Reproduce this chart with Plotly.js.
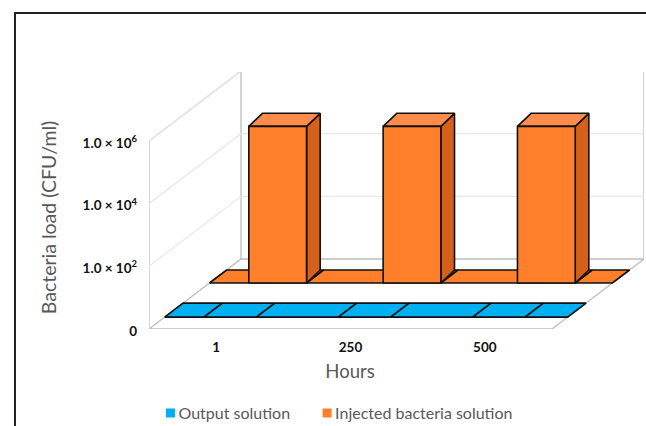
<!DOCTYPE html>
<html>
<head>
<meta charset="utf-8">
<script src="https://cdn.plot.ly/plotly-3.0.1.min.js"></script>
<style>
html,body{margin:0;padding:0;background:#fff;overflow:hidden}
#chart{position:absolute;left:0;top:0;width:646px;height:426px}
#frame{position:absolute;left:14px;top:12px;width:640px;height:420px;border-left:2px solid #222;border-top:2px solid #222;pointer-events:none}
#chart .legendsymbols{transform:translateX(-9px)}
#chart .legendtext{transform:translateX(-21px)}
</style>
</head>
<body>
<div id="chart"></div>
<div id="frame"></div>
<script>
// Data
const hours = ['1', '250', '500'];
const outputSolution = [0, 0, 0];
const injectedSolution = [1e5, 1e5, 1e5];
const valueTicks = [0, 1e2, 1e4, 1e6];
const valueTickLabels = ['0', '1.0 × 10<sup>2</sup>', '1.0 × 10<sup>4</sup>', '1.0 × 10<sup>6</sup>'];

// Scale: 0 at the floor, one level for each two decades
const level = v => v > 0 ? Math.log10(v) / 2 : 0;
const topLevel = level(valueTicks[valueTicks.length - 1]);
const nCat = hours.length;

// Oblique projection: depth 0 = front of the floor, depth 1 = back wall
const shiftX = 92 / 134.33, shiftY = 70 / 62.67;
const P = (x, d, l) => [x + d * shiftX, l + d * shiftY];

const traces = [];
function poly(pts, fill, color, width) {
  const q = pts.map(p => P(p[0], p[1], p[2]));
  const t = {
    x: q.map(a => a[0]), y: q.map(a => a[1]), mode: 'lines', hoverinfo: 'skip', showlegend: false,
    line: {color: color, width: width}
  };
  if (fill) { t.fill = 'toself'; t.fillcolor = fill; }
  traces.push(t);
}

// Walls and floor
const faint = '#e8e8e8', edge = '#bdbdbd';
poly([[0,0,0],[nCat,0,0],[nCat,1,0],[0,1,0],[0,0,0]], null, edge, 1.3);
poly([[0,1,0],[0,1,topLevel]], null, edge, 1.3);
poly([[0,0,0],[0,0,topLevel],[0,1,topLevel]], null, edge, 1.3);
poly([[0,1,topLevel],[nCat,1,topLevel]], null, faint, 1.5);
poly([[nCat,1,topLevel],[nCat,1,0]], null, edge, 1.3);
valueTicks.slice(1).forEach(v => {
  poly([[0,0,level(v)],[0,1,level(v)],[nCat,1,level(v)]], null, faint, 1.3);
});

const depthRows = {output: [0.17, 0.37], injected: [0.657, 0.843]};
const barWidths = {output: 0.39, injected: 0.43};
const rowOffsets = {output: -0.012, injected: 0.008};
const barSkew = 0.026;
const colors = {
  output: {front: '#00B0F0'},
  injected: {front: '#FF7F2A', top: '#FF8C4B', side: '#D5601A'}
};

function row(values, d, w, off, c) {
  const [d0, d1] = d;
  const edges = [0];
  values.forEach((_, i) => edges.push(i + 0.5 + off - w / 2, i + 0.5 + off + w / 2));
  edges.push(nCat);
  for (let i = 0; i < edges.length - 1; i++) {
    poly([[edges[i],d0,0],[edges[i+1],d0,0],[edges[i+1],d1,0],[edges[i],d1,0],[edges[i],d0,0]], c.front, '#111', 1.6);
  }
  values.forEach((v, i) => {
    const h = level(v);
    if (h <= 0) return;
    const a = i + 0.5 + off - w / 2, b = i + 0.5 + off + w / 2;
    poly([[b,d0,0],[b-barSkew,d1,0],[b-barSkew,d1,h],[b,d0,h],[b,d0,0]], c.side, '#111', 1.6);
    poly([[a,d0,h],[b,d0,h],[b-barSkew,d1,h],[a-barSkew,d1,h],[a,d0,h]], c.top, '#111', 1.6);
    poly([[a,d0,0],[b,d0,0],[b,d0,h],[a,d0,h],[a,d0,0]], c.front, '#111', 1.6);
  });
}
row(injectedSolution, depthRows.injected, barWidths.injected, rowOffsets.injected, colors.injected);
row(outputSolution, depthRows.output, barWidths.output, rowOffsets.output, colors.output);

// Legend entries
traces.push({x:[null], y:[null], mode:'markers', name:'Output solution', marker:{symbol:'square', size:9, color:colors.output.front}, hoverinfo:'skip'});
traces.push({x:[null], y:[null], mode:'markers', name:'Injected bacteria solution', marker:{symbol:'square', size:9, color:colors.injected.front}, hoverinfo:'skip'});
// Carrier of the axis titles: its axes span only the visible front of the chart
traces.push({x:[null], y:[null], xaxis:'x2', yaxis:'y2', mode:'markers', showlegend:false, hoverinfo:'skip'});

const tickFont = {size: 13.5, color: '#111', family: 'Lato, sans-serif', weight: 'bold'};
const layout = {
  width: 646, height: 426,
  paper_bgcolor: '#fff', plot_bgcolor: 'rgba(0,0,0,0)',
  margin: {l: 149, r: 2, t: 72, b: 97, autoexpand: false},
  font: {family: 'Lato, sans-serif'},
  showlegend: true,
  legend: {orientation: 'h', x: 0.404, xanchor: 'center', y: -0.327, yanchor: 'middle',
           font: {size: 16, color: '#595959'}, bgcolor: 'rgba(0,0,0,0)'},
  xaxis: {
    range: [0, 495 / 134.33], tickmode: 'array',
    tickvals: hours.map((_, i) => i + 0.5), ticktext: hours,
    tickfont: tickFont,
    showgrid: false, zeroline: false, showline: false, ticks: '',
    ticklabelstandoff: 8
  },
  yaxis: {
    range: [0, 257 / 62.67], tickmode: 'array',
    tickvals: valueTicks.map(level), ticktext: valueTickLabels,
    tickfont: tickFont,
    showgrid: false, zeroline: false, showline: false, ticks: '',
    ticklabelstandoff: 11, ticklabelshift: 2
  },
  xaxis2: {
    anchor: 'y2', domain: [0, 402 / 495], range: [0, 1],
    showticklabels: false, showgrid: false, zeroline: false, showline: false, ticks: '',
    title: {text: 'Hours', font: {size: 18.5, color: '#595959'}, standoff: 36}
  },
  yaxis2: {
    anchor: 'x2', domain: [0, 223 / 257], range: [0, 1],
    showticklabels: false, showgrid: false, zeroline: false, showline: false, ticks: '',
    title: {text: 'Bacteria load (CFU/ml)', font: {size: 19.5, color: '#595959'}, standoff: 86}
  }
};
Plotly.newPlot('chart', traces, layout, {displayModeBar: false, staticPlot: true});
</script>
</body>
</html>
